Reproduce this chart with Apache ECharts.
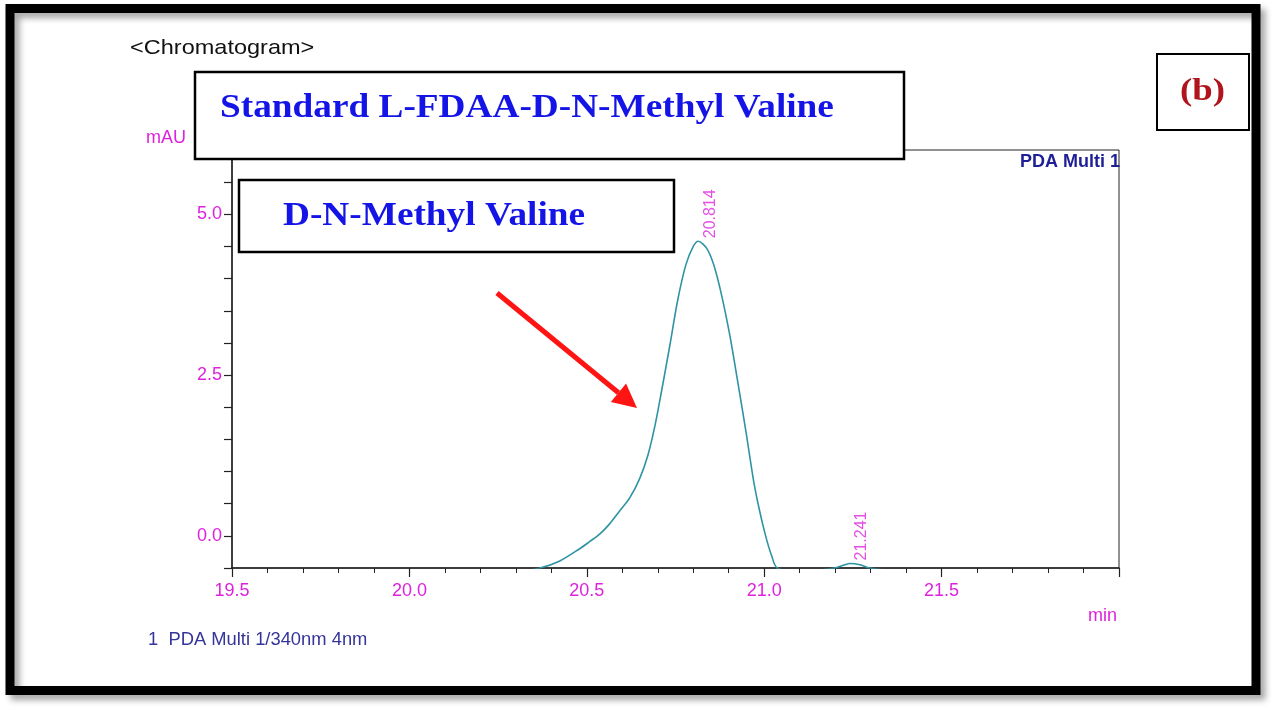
<!DOCTYPE html>
<html>
<head>
<meta charset="utf-8">
<script src="https://cdn.jsdelivr.net/npm/echarts@6/dist/echarts.min.js"></script>
<style>html,body{margin:0;padding:0;background:#fff;}#c{width:1280px;height:716px;}</style>
</head>
<body>
<div id="c"></div>
<script>
// ---- data ----
const retentionTime = [19.50, 20.30, 20.368, 20.424, 20.48, 20.508, 20.537, 20.565, 20.593, 20.621, 20.649, 20.672, 20.692, 20.711, 20.734, 20.756, 20.779, 20.800, 20.814, 20.838, 20.858, 20.880, 20.903, 20.925, 20.948, 20.970, 20.987, 21.004, 21.021, 21.037, 21.10, 21.199, 21.227, 21.241, 21.270, 21.297, 21.40, 22.00];
const absorbance   = [-0.56, -0.56, -0.50, -0.39, -0.20, -0.09, 0.03, 0.19, 0.39, 0.59, 0.89, 1.25, 1.71, 2.26, 2.96, 3.66, 4.21, 4.50, 4.58, 4.47, 4.21, 3.74, 3.12, 2.41, 1.64, 0.86, 0.39, 0.00, -0.31, -0.50, -0.56, -0.50, -0.45, -0.43, -0.45, -0.50, -0.56, -0.56];
const peakTimes = [20.814, 21.241];
const peakHeights = [4.58, -0.43];
const yTickLabels = [0, 2.5, 5.0];
const xTickLabels = [19.5, 20.0, 20.5, 21.0, 21.5];

const magenta = '#dd22dd';
const chart = echarts.init(document.getElementById('c'));

// arrow geometry
const tip = [637, 408], tail = [497, 293];
const dx = tip[0]-tail[0], dy = tip[1]-tail[1], L = Math.hypot(dx, dy);
const ux = dx/L, uy = dy/L, nx = -uy, ny = ux;
const bx = tip[0]-24*ux, by = tip[1]-24*uy;

chart.setOption({
  animation: false,
  backgroundColor: '#fff',
  grid: { left: 232, right: 161, top: 150, bottom: 148, show: true, borderColor: '#222', borderWidth: 1, backgroundColor: 'transparent' },
  xAxis: {
    type: 'value', min: 19.5, max: 22.0, interval: 0.5,
    axisLine: { onZero: false, lineStyle: { color: '#222', width: 1.5 } },
    axisTick: { show: true, length: 9, lineStyle: { color: '#222', width: 1.2 } },
    minorTick: { show: true, splitNumber: 5, length: 5, lineStyle: { color: '#222', width: 1 } },
    splitLine: { show: false },
    axisLabel: {
      color: magenta, fontSize: 18, fontFamily: 'Liberation Sans', margin: 14,
      formatter: v => xTickLabels.some(t => Math.abs(t - v) < 1e-6) ? v.toFixed(1) : ''
    }
  },
  yAxis: {
    type: 'value', min: -0.5, max: 6.0, interval: 0.5,
    axisLine: { show: true, onZero: false, lineStyle: { color: '#222', width: 1.5 } },
    axisTick: { show: true, length: 8, lineStyle: { color: '#222', width: 1.2 } },
    splitLine: { show: false },
    axisLabel: {
      color: magenta, fontSize: 18, fontFamily: 'Liberation Sans', margin: 10,
      formatter: v => yTickLabels.some(t => Math.abs(t - v) < 1e-6) ? v.toFixed(1) : ''
    }
  },
  series: [
    {
      type: 'line', data: retentionTime.map((t, i) => [t, absorbance[i]]),
      showSymbol: false, symbol: 'none', smooth: 0.3, clip: true,
      lineStyle: { color: '#2e93a3', width: 1.6 }, z: 3
    },
    {
      type: 'scatter', data: peakTimes.map((t, i) => [t, peakHeights[i]]),
      symbolSize: 0.1, itemStyle: { color: 'transparent' }, clip: false,
      label: {
        show: true, position: [12, -3], rotate: 90, align: 'left', verticalAlign: 'middle',
        color: magenta, fontSize: 16, fontFamily: 'Liberation Sans',
        formatter: p => p.value[0].toFixed(3)
      }, z: 4
    }
  ],
  graphic: [
    // outer frame
    { type: 'rect', shape: { x: 10, y: 8.5, width: 1246, height: 682 },
      style: { fill: 'none', stroke: '#000', lineWidth: 9, shadowBlur: 6, shadowOffsetX: 5, shadowOffsetY: 5, shadowColor: 'rgba(0,0,0,0.35)' }, z: 10 },
    { type: 'text', x: 130, y: 48, style: { text: '<Chromatogram>', fill: '#111', font: '21px "Liberation Sans"', textVerticalAlign: 'middle' }, scaleX: 1.12, z: 10 },
    { type: 'text', x: 146, y: 138, style: { text: 'mAU', fill: magenta, font: '18px "Liberation Sans"', textVerticalAlign: 'middle' }, z: 10 },
    { type: 'text', x: 1020, y: 162, style: { text: 'PDA Multi 1', fill: '#1e1e96', font: 'bold 18px "Liberation Sans"', textVerticalAlign: 'middle' }, z: 10 },
    { type: 'text', x: 1088, y: 616, style: { text: 'min', fill: magenta, font: '18px "Liberation Sans"', textVerticalAlign: 'middle' }, z: 10 },
    { type: 'text', x: 148, y: 640, style: { text: '1  PDA Multi 1/340nm 4nm', fill: '#34349a', font: '18px "Liberation Sans"', textVerticalAlign: 'middle' }, scaleX: 1.02, z: 10 },
    // title boxes
    { type: 'rect', shape: { x: 195, y: 72, width: 709, height: 87 }, style: { fill: '#fff', stroke: '#000', lineWidth: 2.5 }, z: 11 },
    { type: 'text', x: 220, y: 108, scaleX: 1.13, style: { text: 'Standard L-FDAA-D-N-Methyl Valine', fill: '#1414e6', font: 'bold 33px "Liberation Serif"', textVerticalAlign: 'middle' }, z: 12 },
    { type: 'rect', shape: { x: 239, y: 180, width: 435, height: 72 }, style: { fill: '#fff', stroke: '#000', lineWidth: 2.5 }, z: 11 },
    { type: 'text', x: 283, y: 216, scaleX: 1.13, style: { text: 'D-N-Methyl Valine', fill: '#1414e6', font: 'bold 33px "Liberation Serif"', textVerticalAlign: 'middle' }, z: 12 },
    { type: 'rect', shape: { x: 1157, y: 54, width: 92, height: 76 }, style: { fill: '#fff', stroke: '#000', lineWidth: 2 }, z: 11 },
    { type: 'text', x: 1180, y: 92, scaleX: 1.15, style: { text: '(b)', fill: '#b0141c', font: 'bold 32px "Liberation Serif"', textVerticalAlign: 'middle' }, z: 12 },
    // red arrow
    { type: 'line', shape: { x1: tail[0], y1: tail[1], x2: bx, y2: by }, style: { stroke: '#ff1414', lineWidth: 5 }, z: 12 },
    { type: 'polygon', shape: { points: [tip, [bx + 12*nx, by + 12*ny], [bx - 12*nx, by - 12*ny]] }, style: { fill: '#ff1414' }, z: 12 }
  ]
});
</script>
</body>
</html>
